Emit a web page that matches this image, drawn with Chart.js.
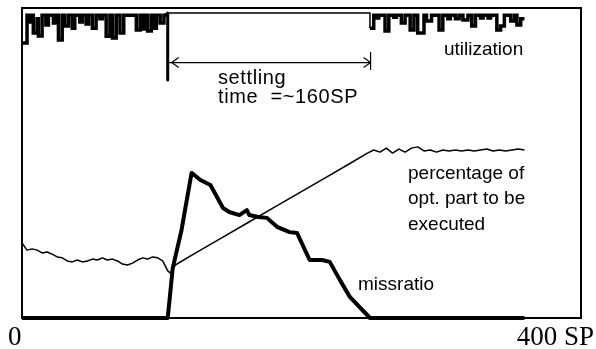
<!DOCTYPE html>
<html>
<head>
<meta charset="utf-8">
<script src="https://cdn.jsdelivr.net/npm/chart.js@4.4.1/dist/chart.umd.min.js"></script>
<style>
  html, body { margin: 0; padding: 0; background: #fff; }
  #wrap { width: 596px; height: 349px; }
</style>
</head>
<body>
<div id="wrap"><canvas id="myChart" width="596" height="349"></canvas></div>
<script>
// x in SP (sampling periods), y in percent of the plot height
const utilSP = [0, 4, 6, 8, 9, 12, 13, 16, 19, 21, 25, 27, 29, 32, 34, 37, 40, 42, 46, 48, 51, 53, 56, 59, 62, 64, 67, 70, 72, 75, 78, 81, 91, 94, 96, 98, 100, 103, 105, 107, 110, 113, 115,
  277, 280, 282, 284, 289, 292, 296, 298, 302, 305, 309, 312, 315, 320, 322, 326, 332, 335, 339, 341, 345, 348, 351, 355, 358, 361, 365, 367, 371, 373, 378, 381, 384, 389, 392, 394, 397, 400];
const utilVal = [88.7, 97.7, 95.5, 97.7, 91.9, 96.5, 91.0, 97.7, 94.5, 97.7, 95.2, 97.7, 89.7, 97.7, 94.2, 97.7, 93.5, 97.7, 95.5, 97.7, 94.8, 97.7, 93.5, 97.7, 96.5, 97.7, 90.9, 97.7, 90.3, 97.7, 91.9, 97.7, 92.9, 97.7, 93.2, 97.7, 92.6, 97.7, 93.5, 97.7, 95.2, 97.7, 98.4,
  93.5, 97.7, 96.8, 97.7, 92.6, 97.7, 97.0, 97.7, 95.2, 97.7, 92.9, 97.7, 91.9, 97.7, 95.8, 97.7, 92.9, 97.7, 96.5, 97.7, 96.5, 97.7, 96.1, 97.7, 94.2, 97.7, 96.8, 97.7, 96.8, 97.7, 92.9, 94.2, 97.7, 95.8, 97.7, 94.5, 96.5, 96.5];

const pctSP = [0, 4, 8, 12, 16, 20, 24, 28, 32, 36, 40, 44, 48, 52, 56, 60, 64, 68, 72, 76, 80, 84, 88, 92, 96, 100, 104, 108, 112, 116, 118, 122,
  140, 160, 180, 200, 220, 240, 260, 275,
  280, 285, 290, 295, 300, 305, 310, 315, 320, 325, 330, 335, 340, 345, 350, 355, 360, 365, 370, 375, 380, 385, 390, 395, 400];
const pctVal = [24.2, 21.9, 22.3, 21.9, 21.0, 21.3, 20.6, 19.7, 19.4, 18.4, 18.1, 18.7, 18.1, 18.4, 19.0, 18.7, 19.4, 18.7, 19.0, 18.4, 17.4, 17.1, 17.7, 18.7, 19.4, 19.0, 19.7, 19.4, 18.4, 15.2, 14.5, 17.1,
  21.4, 26.1, 30.8, 35.5, 40.2, 44.9, 49.6, 53.2,
  54.2, 53.5, 54.8, 53.2, 54.5, 53.5, 54.8, 55.2, 53.9, 54.2, 53.5, 54.2, 53.9, 54.2, 53.9, 54.2, 53.9, 54.2, 54.5, 53.9, 54.2, 53.9, 54.2, 54.5, 54.2];

const missSP = [0, 116, 120, 127, 135, 142, 150, 160, 165, 173, 179, 181, 188, 195, 203, 213, 219, 229, 239, 245, 253, 261, 277, 400];
const missVal = [0, 0, 16.1, 28.4, 46.8, 44.5, 42.9, 35.5, 34.2, 33.2, 34.8, 33.2, 32.6, 32.3, 29.4, 27.7, 27.4, 18.7, 18.7, 18.1, 12.3, 6.8, 0, 0];

// settling time annotation
const settleStart = 116;
const settleEnd = 277.5;
const settleLevel = 82.4;
const markerTop = 98.4;
const markerBottom = 76.8;

const axisLabels = ['0', '400 SP'];

const pts = (xs, ys) => xs.map((x, i) => ({ x: x, y: ys[i] }));

// box, texts and arrow heads
const extras = {
  id: 'extras',
  afterDatasetsDraw(chart) {
    const { ctx, chartArea: a, scales: { x, y } } = chart;
    ctx.save();
    ctx.strokeStyle = '#000';
    ctx.lineWidth = 2;
    ctx.strokeRect(a.left, a.top, a.right - a.left, a.bottom - a.top);

    // arrow heads of the settling time span
    const ly = y.getPixelForValue(settleLevel);
    const x1 = x.getPixelForValue(settleStart) + 3;
    const x2 = x.getPixelForValue(settleEnd);
    ctx.lineWidth = 1.2;
    ctx.beginPath();
    ctx.moveTo(x1 + 8, ly - 5); ctx.lineTo(x1 + 1, ly); ctx.lineTo(x1 + 8, ly + 5);
    ctx.moveTo(x2 - 7, ly - 5); ctx.lineTo(x2, ly); ctx.lineTo(x2 - 7, ly + 5);
    ctx.moveTo(x2, y.getPixelForValue(85.8)); ctx.lineTo(x2, y.getPixelForValue(80.0));
    ctx.stroke();

    ctx.fillStyle = '#000';
    ctx.textBaseline = 'alphabetic';
    ctx.font = '19px "Liberation Sans", Arial, sans-serif';
    ctx.fillText('utilization', 444, 55);
    ctx.fillText('percentage of', 408, 179);
    ctx.fillText('opt. part to be', 408, 204);
    ctx.fillText('executed', 408, 230);
    ctx.fillText('missratio', 358, 290);
    ctx.font = '20px "Liberation Sans", Arial, sans-serif';
    ctx.letterSpacing = '0.6px';
    ctx.fillText('settling', 218, 84);
    ctx.fillText('time  =~160SP', 218, 103);
    ctx.letterSpacing = '0px';

    ctx.font = '27px "Liberation Serif", "Times New Roman", serif';
    ctx.textAlign = 'left';
    ctx.fillText(axisLabels[0], 8, 345);
    ctx.textAlign = 'right';
    ctx.fillText(axisLabels[1], 594, 345);
    ctx.restore();
  }
};

const line = (data, width, extra) => Object.assign({
  data: data,
  borderColor: '#000',
  borderWidth: width,
  showLine: true,
  pointRadius: 0,
  borderJoinStyle: 'round',
  borderCapStyle: 'butt',
  tension: 0
}, extra || {});

const ctx = document.getElementById('myChart').getContext('2d');
new Chart(ctx, {
  type: 'scatter',
  data: {
    datasets: [
      line(pts(utilSP, utilVal), 3.5, {
        label: 'utilization', stepped: true, borderJoinStyle: 'miter',
        // thinner line while the controller is settling
        segment: { borderWidth: c => (c.p0.parsed.x === 115 ? 1.5 : undefined) }
      }),
      line(pts(pctSP, pctVal), 1.5, { label: 'percentage of opt. part to be executed' }),
      line(pts(missSP, missVal), 4, { label: 'missratio', clip: 4 }),
      line([{ x: settleStart, y: markerTop }, { x: settleStart, y: markerBottom }], 3, { label: 'marker' }),
      line([{ x: settleStart, y: settleLevel }, { x: settleEnd, y: settleLevel }], 1.3, { label: 'settling time' })
    ]
  },
  options: {
    responsive: false,
    animation: false,
    layout: { padding: { left: 22, top: 8, right: 15, bottom: 31 } },
    scales: {
      x: { type: 'linear', min: 0, max: 445, display: false },
      y: { type: 'linear', min: 0, max: 100, display: false }
    },
    plugins: { legend: { display: false }, tooltip: { enabled: false } }
  },
  plugins: [extras]
});
</script>
</body>
</html>
